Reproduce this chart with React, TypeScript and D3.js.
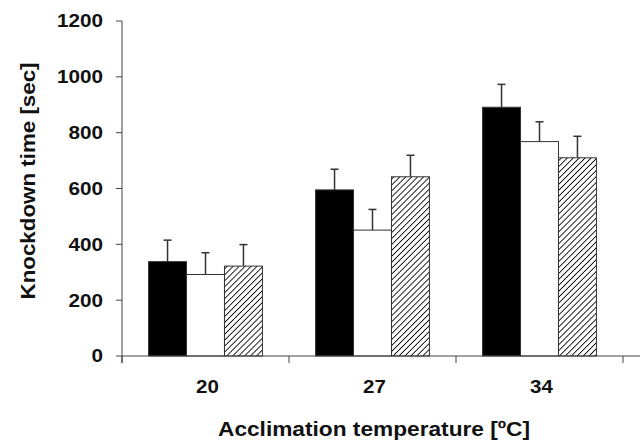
import React from "react";
import * as d3 from "d3";

const categories = ["20", "27", "34"];
const seriesKeys = ["black", "white", "hatched"];
const blackValues = [338, 595, 891];
const whiteValues = [292, 451, 768];
const hatchedValues = [322, 642, 710];
const blackErrors = [77, 74, 82];
const whiteErrors = [78, 74, 71];
const hatchedErrors = [77, 77, 77];
const yTicks = [0, 200, 400, 600, 800, 1000, 1200];

const W = 640;
const H = 442;
const left = 122;
const right = 623;
const top = 21;
const bottom = 356;
const FONT = "Arial, 'Liberation Sans', Helvetica, sans-serif";

export default function App() {
  const x = d3.scaleBand<string>().domain(categories).range([left, right]).paddingInner(0).paddingOuter(0);
  const inner = d3.scaleBand<string>().domain(seriesKeys).range([0, x.bandwidth()]).paddingInner(0).paddingOuter(0.7);
  const y = d3.scaleLinear().domain([0, 1200]).range([bottom, top]);

  const series = [
    { key: "black", values: blackValues, errors: blackErrors, fill: "#000" },
    { key: "white", values: whiteValues, errors: whiteErrors, fill: "#fff" },
    { key: "hatched", values: hatchedValues, errors: hatchedErrors, fill: "url(#hatch)" },
  ];

  const tickPositions = [...categories.map((c) => x(c)!), right];

  return (
    <svg width={W} height={H} style={{ position: "absolute", left: 0, top: 0, background: "#fff" }}>
      <defs>
        <pattern id="hatch" patternUnits="userSpaceOnUse" width="4.2" height="4.2" patternTransform="rotate(45)">
          <rect width="4.2" height="4.2" fill="#fff" />
          <line x1="0" y1="0" x2="0" y2="4.2" stroke="#000" strokeWidth="1.7" />
        </pattern>
      </defs>
      {series.map((s) =>
        categories.map((c, i) => {
          const bx = x(c)! + inner(s.key)!;
          const bw = inner.bandwidth();
          const v = s.values[i];
          const e = s.errors[i];
          const cx = bx + bw / 2;
          return (
            <g key={s.key + c}>
              <line x1={cx} x2={cx} y1={y(v)} y2={y(v + e)} stroke="#333" strokeWidth={1.5} />
              <line x1={cx - 4} x2={cx + 4} y1={y(v + e)} y2={y(v + e)} stroke="#333" strokeWidth={1.5} />
              <rect x={bx} y={y(v)} width={bw} height={bottom - y(v)} fill={s.fill} stroke="#333" strokeWidth={1} />
            </g>
          );
        })
      )}
      <line x1={left} x2={left} y1={top} y2={bottom + 7} stroke="#444" strokeWidth={1} />
      {yTicks.map((t) => (
        <g key={t}>
          <line x1={left - 6} x2={left} y1={y(t)} y2={y(t)} stroke="#444" strokeWidth={1} />
          <text
            transform={`translate(103, ${y(t)}) scale(1.15, 1)`}
            dy="0.36em"
            textAnchor="end"
            fontFamily={FONT}
            fontWeight="bold"
            fontSize={18}
            fill="#111"
          >
            {t}
          </text>
        </g>
      ))}
      <line x1={left} x2={W} y1={bottom} y2={bottom} stroke="#444" strokeWidth={1} />
      {tickPositions.map((p, i) => (
        <line key={i} x1={p} x2={p} y1={bottom} y2={bottom + 7} stroke="#444" strokeWidth={1} />
      ))}
      {categories.map((c) => (
        <text
          key={c}
          transform={`translate(${x(c)! + x.bandwidth() / 2 + 2}, 393) scale(1.08, 1)`}
          textAnchor="middle"
          fontFamily={FONT}
          fontWeight="bold"
          fontSize={19}
          fill="#111"
        >
          {c}
        </text>
      ))}
      <text
        x={374}
        y={436}
        textAnchor="middle"
        fontFamily={FONT}
        fontWeight="bold"
        fontSize={21}
        textLength={312}
        lengthAdjust="spacingAndGlyphs"
        fill="#111"
      >
        Acclimation temperature [ºC]
      </text>
      <text
        transform={`translate(35, 181) rotate(-90)`}
        textAnchor="middle"
        fontFamily={FONT}
        fontWeight="bold"
        fontSize={20}
        textLength={237}
        lengthAdjust="spacingAndGlyphs"
        fill="#111"
      >
        Knockdown time [sec]
      </text>
    </svg>
  );
}
